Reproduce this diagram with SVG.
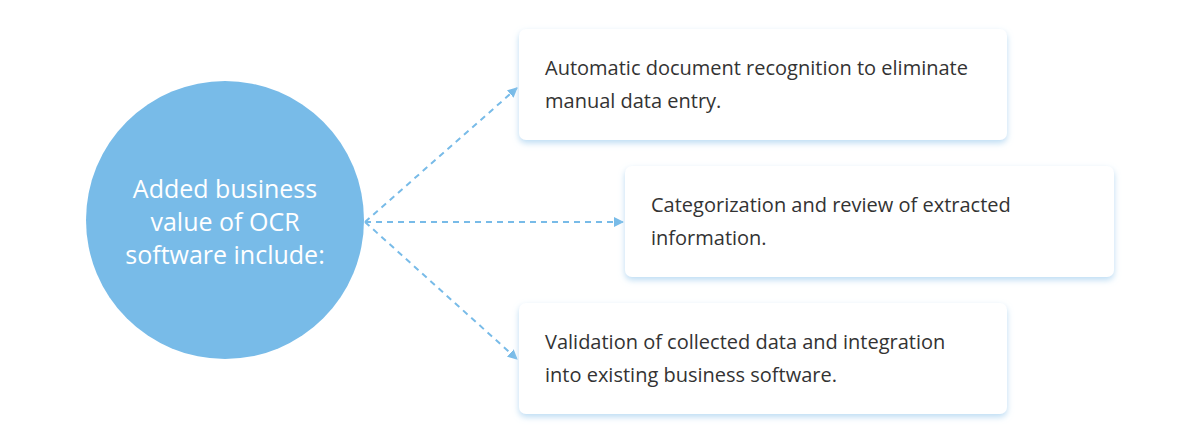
<svg xmlns="http://www.w3.org/2000/svg" width="1200" height="444" viewBox="0 0 1200 444">
<style>
.box{fill:#ffffff;filter:url(#sh)}
.bt{font-family:"Open Sans","Liberation Sans",sans-serif;font-size:20px;fill:#333333}
.ct{font-family:"Open Sans","Liberation Sans",sans-serif;font-size:25px;fill:#ffffff;text-anchor:middle}
.con{fill:none;stroke:#78bbe8;stroke-width:2;stroke-dasharray:6 5;marker-end:url(#ah)}
</style>
<defs>
<filter id="sh" x="-10%" y="-20%" width="120%" height="150%">
<feGaussianBlur in="SourceAlpha" stdDeviation="3"/>
<feOffset dy="3" result="b"/>
<feFlood flood-color="#b5d8f2" flood-opacity="0.9"/>
<feComposite in2="b" operator="in"/>
<feMerge><feMergeNode/><feMergeNode in="SourceGraphic"/></feMerge>
</filter>
<marker id="ah" viewBox="0 0 10 10" refX="9" refY="5" markerWidth="5" markerHeight="5" orient="auto" markerUnits="strokeWidth">
<path d="M0,0 L10,5 L0,10 z" fill="#78bbe8"/>
</marker>
</defs>
<rect width="1200" height="444" fill="#ffffff"/>
<g id="connectors">
<line class="con" x1="365" y1="222" x2="517" y2="88"/>
<line class="con" x1="365" y1="222" x2="623" y2="222"/>
<line class="con" x1="365" y1="222" x2="517" y2="359"/>
</g>
<g id="center">
<circle cx="225" cy="220" r="139" fill="#78bbe8"/>
<text class="ct" x="225" y="198">Added business</text>
<text class="ct" x="225" y="231">value of OCR</text>
<text class="ct" x="225" y="264">software include:</text>
</g>
<g id="box1">
<rect class="box" x="519" y="29" width="488" height="111" rx="7"/>
<text class="bt" x="545" y="75">Automatic document recognition to eliminate</text>
<text class="bt" x="545" y="108">manual data entry.</text>
</g>
<g id="box2">
<rect class="box" x="625" y="166" width="489" height="111" rx="7"/>
<text class="bt" x="651" y="212">Categorization and review of extracted</text>
<text class="bt" x="651" y="245">information.</text>
</g>
<g id="box3">
<rect class="box" x="519" y="303" width="488" height="111" rx="7"/>
<text class="bt" x="545" y="349">Validation of collected data and integration</text>
<text class="bt" x="545" y="382">into existing business software.</text>
</g>
</svg>
